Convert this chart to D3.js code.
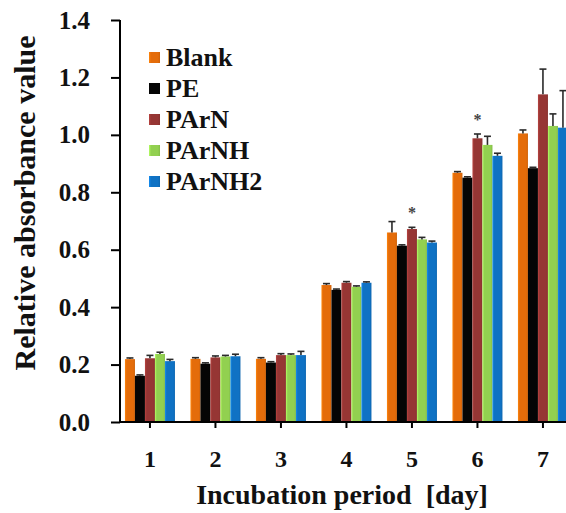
<!DOCTYPE html>
<html>
<head>
<meta charset="utf-8">
<script src="https://cdn.jsdelivr.net/npm/d3@7"></script>
<style>
  body { margin: 0; background: #fff; }
  svg text { font-family: "Liberation Serif", "Times New Roman", serif; font-weight: bold; fill: #111; }
</style>
</head>
<body>
<svg id="canvas"></svg>
<script>
let days = ['1', '2', '3', '4', '5', '6', '7']
let seriesNames = ['Blank', 'PE', 'PArN', 'PArNH', 'PArNH2']
let seriesColors = ['#E46C0A', '#050505', '#963634', '#92D050', '#0F72C4']

let blank  = [0.219, 0.220, 0.220, 0.477, 0.660, 0.868, 1.005]
let pe     = [0.161, 0.203, 0.207, 0.460, 0.614, 0.851, 0.884]
let parn   = [0.222, 0.225, 0.233, 0.485, 0.672, 0.988, 1.141]
let parnh  = [0.237, 0.228, 0.233, 0.471, 0.636, 0.965, 1.031]
let parnh2 = [0.212, 0.229, 0.233, 0.485, 0.625, 0.927, 1.025]

let blankErr  = [0.004, 0.004, 0.004, 0.005, 0.038, 0.004, 0.012]
let peErr     = [0.003, 0.003, 0.003, 0.003, 0.003, 0.003, 0.003]
let parnErr   = [0.010, 0.005, 0.005, 0.004, 0.006, 0.015, 0.088]
let parnhErr  = [0.006, 0.004, 0.004, 0.003, 0.007, 0.030, 0.042]
let parnh2Err = [0.006, 0.007, 0.013, 0.003, 0.005, 0.009, 0.129]

// days marked with * above the PArN bar
let starDays = ['5', '6']

let yTicks = [0, 0.2, 0.4, 0.6, 0.8, 1.0, 1.2, 1.4]

let seriesValues = [blank, pe, parn, parnh, parnh2]
let seriesErrors = [blankErr, peErr, parnErr, parnhErr, parnh2Err]

let width = 566
let height = 513
let plotLeft = 120
let plotBottom = 422
let plotTop = 20

let canvas = d3.select('#canvas')
               .attr('width', width)
               .attr('height', height)

let xScale = d3.scaleBand()
               .domain(days)
               .range([117.2, 117.2 + 7 * 65.5])

let seriesScale = d3.scaleBand()
                    .domain(seriesNames)
                    .range([0, 50])

let yScale = d3.scaleLinear()
               .domain([0, 1.4])
               .range([plotBottom, plotTop])

// bevel-ish gradient like the excel bars
let defs = canvas.append('defs')
seriesNames.forEach((name, i) => {
  let c = d3.color(seriesColors[i])
  let g = defs.append('linearGradient')
              .attr('id', 'grad' + i)
              .attr('x1', '0%').attr('x2', '100%')
              .attr('y1', '0%').attr('y2', '0%')
  g.append('stop').attr('offset', '0%').attr('stop-color', c.brighter(0.6))
  g.append('stop').attr('offset', '18%').attr('stop-color', c)
  g.append('stop').attr('offset', '82%').attr('stop-color', c)
  g.append('stop').attr('offset', '100%').attr('stop-color', c.darker(0.3))
})

let rows = []
days.forEach((day, d) => {
  seriesNames.forEach((name, s) => {
    rows.push({ day: day, series: name, index: s, value: seriesValues[s][d], err: seriesErrors[s][d] })
  })
})

let barX = (item) => xScale(item.day) + xScale.bandwidth() / 2 - 25 + seriesScale(item.series)

canvas.append('g')
      .selectAll('rect')
      .data(rows)
      .enter()
      .append('rect')
      .attr('x', barX)
      .attr('y', (item) => yScale(item.value))
      .attr('width', seriesScale.bandwidth())
      .attr('height', (item) => plotBottom - yScale(item.value))
      .attr('fill', (item) => 'url(#grad' + item.index + ')')

// error bars (upper half only)
let errs = canvas.append('g')
                 .attr('stroke', '#2a2a2a')
                 .attr('stroke-width', 1.6)

errs.selectAll('line.v')
    .data(rows)
    .enter()
    .append('line')
    .attr('x1', (item) => barX(item) + seriesScale.bandwidth() / 2)
    .attr('x2', (item) => barX(item) + seriesScale.bandwidth() / 2)
    .attr('y1', (item) => yScale(item.value))
    .attr('y2', (item) => yScale(item.value + item.err))

errs.selectAll('line.cap')
    .data(rows)
    .enter()
    .append('line')
    .attr('x1', (item) => barX(item) + seriesScale.bandwidth() / 2 - 3.5)
    .attr('x2', (item) => barX(item) + seriesScale.bandwidth() / 2 + 3.5)
    .attr('y1', (item) => yScale(item.value + item.err))
    .attr('y2', (item) => yScale(item.value + item.err))

// asterisks
canvas.append('g')
      .selectAll('text')
      .data(rows.filter((item) => item.series === 'PArN' && starDays.includes(item.day)))
      .enter()
      .append('text')
      .attr('x', (item) => barX(item) + seriesScale.bandwidth() / 2)
      .attr('y', (item) => yScale(item.value + item.err) - 9)
      .attr('text-anchor', 'middle')
      .style('font-size', '16px')
      .style('fill', '#444')
      .text('*')

// axes
let yAxis = d3.axisLeft(yScale)
              .tickValues(yTicks)
              .tickFormat(d3.format('.1f'))
              .tickSize(9)
              .tickPadding(21)

canvas.append('g')
      .attr('id', 'y-axis')
      .attr('transform', `translate(${plotLeft}, 0)`)
      .call(yAxis)
      .call((g) => g.select('.domain').remove())
      .call((g) => g.selectAll('line').attr('stroke', '#000').attr('stroke-width', 2))
      .call((g) => g.selectAll('text').style('font-size', '25px').attr('fill', '#111'))

let xAxis = d3.axisBottom(xScale)
              .tickSize(6)
              .tickPadding(22)

canvas.append('g')
      .attr('id', 'x-axis')
      .attr('transform', `translate(0, ${plotBottom})`)
      .call(xAxis)
      .call((g) => g.select('.domain').remove())
      .call((g) => g.selectAll('line').attr('stroke', '#000').attr('stroke-width', 2))
      .call((g) => g.selectAll('text').style('font-size', '24px').attr('fill', '#111'))

canvas.append('line')
      .attr('x1', plotLeft).attr('x2', width)
      .attr('y1', plotBottom).attr('y2', plotBottom)
      .attr('stroke', '#000').attr('stroke-width', 2)

canvas.append('line')
      .attr('x1', plotLeft).attr('x2', plotLeft)
      .attr('y1', plotTop).attr('y2', plotBottom + 1)
      .attr('stroke', '#000').attr('stroke-width', 2)

// axis titles
canvas.append('text')
      .attr('transform', `translate(35, 203) rotate(-90)`)
      .attr('text-anchor', 'middle')
      .style('font-size', '30px')
      .text('Relative absorbance value')

canvas.append('text')
      .attr('x', 342)
      .attr('y', 504)
      .attr('text-anchor', 'middle')
      .style('font-size', '28px')
      .style('white-space', 'pre')
      .text('Incubation period  [day]')

// legend
let legend = canvas.append('g')
                   .attr('transform', 'translate(149, 57)')

seriesNames.forEach((name, i) => {
  let row = legend.append('g').attr('transform', `translate(0, ${i * 31})`)
  row.append('rect')
     .attr('x', 0).attr('y', -5)
     .attr('width', 11).attr('height', 11)
     .attr('fill', 'url(#grad' + i + ')')
  row.append('text')
     .attr('x', 17)
     .attr('y', 9)
     .style('font-size', '26px')
     .text(name)
})
</script>
</body>
</html>
